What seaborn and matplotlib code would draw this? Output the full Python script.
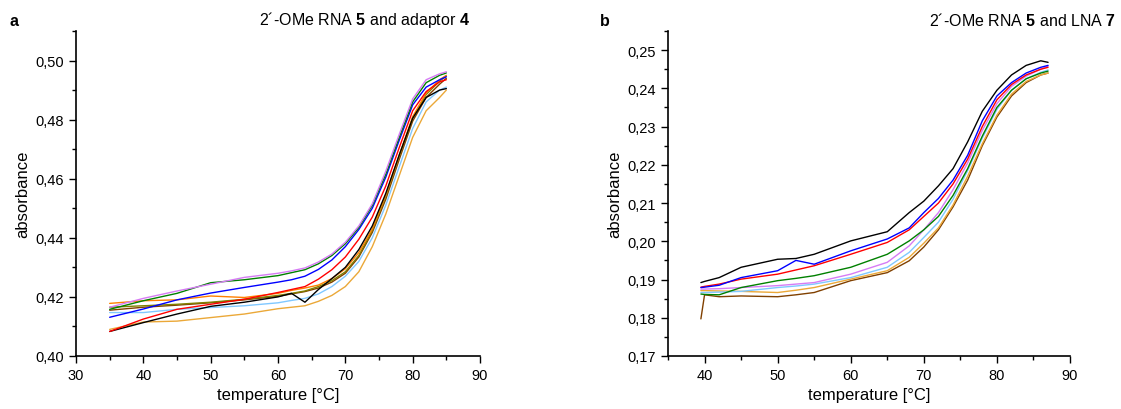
import numpy as np
import pandas as pd
import seaborn as sns
import matplotlib.pyplot as plt
from matplotlib.ticker import MultipleLocator, FuncFormatter

# panel a: 2'-OMe RNA 5 and adaptor 4
temp_a = [35, 40, 45, 50, 55, 60, 62, 64, 66, 68, 70, 72, 74, 76, 78, 80, 82, 84, 85]
violet_a = [.4165, .4195, .4220, .4243, .4266, .4280, .4288, .4298, .4318, .4345, .4385, .4440, .4515, .4625, .4750, .4870, .4935, .4955, .4962]
green_a = [.4158, .4187, .4212, .4248, .4258, .4272, .4282, .4292, .4312, .4340, .4380, .4435, .4510, .4615, .4740, .4860, .4925, .4950, .4958]
blue_a = [.4131, .4159, .4190, .4213, .4232, .4250, .4258, .4270, .4293, .4325, .4370, .4428, .4500, .4605, .4730, .4850, .4910, .4935, .4945]
red_a = [.4083, .4125, .4158, .4175, .4192, .4215, .4225, .4235, .4260, .4292, .4335, .4395, .4470, .4575, .4705, .4830, .4895, .4928, .4935]
black_a = [.4083, .4113, .4142, .4168, .4182, .4200, .4212, .4182, .4225, .4262, .4300, .4360, .4440, .4550, .4680, .4805, .4875, .4900, .4905]
orange_a = [.4178, .4187, .4190, .4203, .4198, .4212, .4222, .4230, .4240, .4262, .4295, .4350, .4430, .4545, .4680, .4810, .4890, .4935, .4950]
olive_a = [.4165, .4170, .4175, .4182, .4192, .4205, .4212, .4220, .4235, .4255, .4285, .4340, .4425, .4540, .4675, .4805, .4885, .4930, .4948]
brown_a = [.4155, .4165, .4172, .4180, .4190, .4202, .4210, .4218, .4230, .4250, .4280, .4335, .4418, .4530, .4665, .4795, .4875, .4920, .4940]
lightblue_a = [.4147, .4147, .4158, .4164, .4170, .4180, .4188, .4195, .4210, .4235, .4270, .4320, .4400, .4510, .4640, .4770, .4860, .4900, .4910]
gold_a = [.4090, .4115, .4118, .4130, .4142, .4160, .4165, .4170, .4185, .4205, .4235, .4285, .4370, .4480, .4610, .4740, .4830, .4875, .4900]

# panel b: 2'-OMe RNA 5 and LNA 7
temp_b = [39.5, 40, 42, 45, 50, 52.5, 55, 60, 65, 68, 70, 72, 74, 76, 78, 80, 82, 84, 86, 87]
black_b = [.1892, .1895, .1905, .1932, .1953, .1955, .1966, .2001, .2025, .2075, .2105, .2145, .2190, .2260, .2340, .2395, .2435, .2460, .2472, .2468]
blue_b = [.1879, .1880, .1885, .1905, .1923, .1950, .1940, .1975, .2006, .2035, .2075, .2112, .2160, .2225, .2315, .2380, .2415, .2440, .2455, .2460]
red_b = [.1880, .1882, .1888, .1901, .1914, .1925, .1936, .1966, .1997, .2030, .2065, .2100, .2150, .2215, .2300, .2370, .2410, .2435, .2450, .2455]
green_b = [.1862, .1861, .1860, .1879, .1897, .1903, .1910, .1932, .1966, .2001, .2030, .2065, .2120, .2190, .2275, .2350, .2395, .2425, .2440, .2445]
violet_b = [.1875, .1875, .1876, .1879, .1884, .1888, .1892, .1914, .1945, .1988, .2030, .2075, .2135, .2205, .2290, .2360, .2405, .2432, .2450, .2458]
lightblue_b = [.1866, .1866, .1867, .1869, .1879, .1883, .1888, .1905, .1932, .1971, .2010, .2050, .2110, .2185, .2270, .2345, .2395, .2425, .2442, .2448]
gold_b = [.1871, .1871, .1870, .1869, .1866, .1872, .1879, .1901, .1923, .1958, .1995, .2035, .2095, .2170, .2255, .2330, .2385, .2418, .2435, .2440]
brown_b = [.1797, .1860, .1855, .1857, .1855, .1860, .1866, .1897, .1918, .1949, .1985, .2030, .2090, .2160, .2250, .2325, .2380, .2415, .2435, .2440]

colors = {"black": "#000000", "red": "#ff0000", "blue": "#0000ff", "green": "#008000",
          "violet": "#d67cf5", "orange": "#ff8000", "olive": "#808000", "brown": "#804000",
          "lightblue": "#80c8ff", "gold": "#eba838"}

curves_a = {"gold": gold_a, "lightblue": lightblue_a, "brown": brown_a, "olive": olive_a,
            "orange": orange_a, "black": black_a, "red": red_a, "blue": blue_a,
            "green": green_a, "violet": violet_a}
curves_b = {"brown": brown_b, "gold": gold_b, "lightblue": lightblue_b, "violet": violet_b,
            "green": green_b, "red": red_b, "blue": blue_b, "black": black_b}


def long_table(temp, curves):
    rows = []
    for name, vals in curves.items():
        for t, v in zip(temp, vals):
            rows.append({"temperature": t, "absorbance": v, "curve": name})
    return pd.DataFrame(rows)


sns.set_style("ticks")
plt.rcParams["font.family"] = ["Liberation Sans", "DejaVu Sans"]
plt.rcParams["mathtext.fontset"] = "custom"
plt.rcParams["mathtext.rm"] = "Liberation Sans"
plt.rcParams["mathtext.bf"] = "Liberation Sans:bold"
plt.rcParams["text.color"] = "black"
plt.rcParams["axes.labelcolor"] = "black"
plt.rcParams["axes.edgecolor"] = "black"
plt.rcParams["xtick.color"] = "black"
plt.rcParams["ytick.color"] = "black"

fig = plt.figure(figsize=(11.21, 4.10), dpi=100)
ax_a = fig.add_axes([0.0678, 0.1293, 0.3604, 0.7927])
ax_b = fig.add_axes([0.5959, 0.1293, 0.3586, 0.7927])

comma = FuncFormatter(lambda v, p: f"{v:.2f}".replace(".", ","))

for ax, temp, curves, ylim, ymaj, ymin, xlim in [
        (ax_a, temp_a, curves_a, (0.40, 0.51), 0.02, 0.01, (30, 90)),
        (ax_b, temp_b, curves_b, (0.17, 0.255), 0.01, 0.005, (35, 90))]:
    df = long_table(temp, curves)
    sns.lineplot(data=df, x="temperature", y="absorbance", hue="curve",
                 palette=colors, legend=False, estimator=None, sort=False,
                 linewidth=1.0, ax=ax)
    ax.set_xlim(*xlim)
    ax.set_ylim(*ylim)
    ax.xaxis.set_major_locator(MultipleLocator(10))
    ax.xaxis.set_minor_locator(MultipleLocator(5))
    ax.yaxis.set_major_locator(MultipleLocator(ymaj))
    ax.yaxis.set_minor_locator(MultipleLocator(ymin))
    ax.yaxis.set_major_formatter(comma)
    ax.tick_params(which="major", length=5, width=1, labelsize=10.5, direction="out")
    ax.tick_params(which="minor", length=3, width=1, direction="out")
    for s in ["top", "right"]:
        ax.spines[s].set_visible(False)
    for s in ["left", "bottom"]:
        ax.spines[s].set_linewidth(1.2)
    ax.set_xlabel("temperature [°C]", fontsize=12)
    ax.set_ylabel("absorbance", fontsize=12)

fig.text(10 / 1121, 1 - 22 / 410, "a", fontsize=11.5, fontweight="bold", va="center")
fig.text(600 / 1121, 1 - 22 / 410, "b", fontsize=11.5, fontweight="bold", va="center")
fig.text(470 / 1121, 1 - 20 / 410, "2´-OMe RNA $\\mathbf{5}$ and adaptor $\\mathbf{4}$",
         fontsize=11.5, ha="right", va="center")
fig.text(1116 / 1121, 1 - 20 / 410, "2´-OMe RNA $\\mathbf{5}$ and LNA $\\mathbf{7}$",
         fontsize=11.5, ha="right", va="center")

fig.savefig("out.png", dpi=100)
